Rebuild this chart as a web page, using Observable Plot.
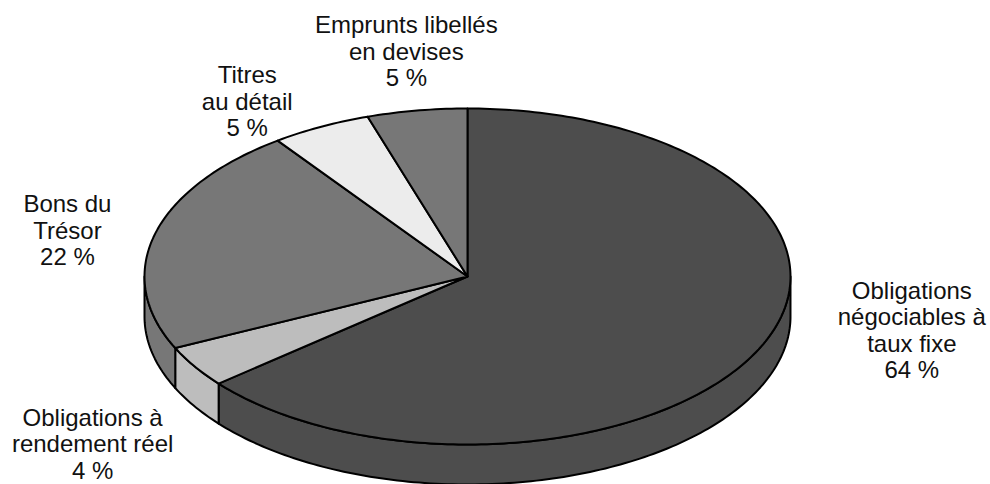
<!DOCTYPE html>
<html>
<head>
<meta charset="utf-8">
<script src="https://cdn.jsdelivr.net/npm/d3@7"></script>
<script src="https://cdn.jsdelivr.net/npm/@observablehq/plot@0.6"></script>
<style>
  html, body { margin: 0; padding: 0; background: #ffffff; }
  #chart svg { display: block; background: #ffffff; }
</style>
</head>
<body>
<div id="chart"></div>
<script>
// ---- Data ----
const categories = [
  "Obligations négociables à taux fixe",
  "Obligations à rendement réel",
  "Bons du Trésor",
  "Titres au détail",
  "Emprunts libellés en devises"
];
const values = [64, 4, 22, 5, 5];
const labelTexts = [
  "Obligations\nnégociables à\ntaux fixe",
  "Obligations à\nrendement réel",
  "Bons du\nTrésor",
  "Titres\nau détail",
  "Emprunts libellés\nen devises"
];
const percentLabels = ["64 %", "4 %", "22 %", "5 %", "5 %"];

// ---- Style / layout ----
const fills = ["#4d4d4d", "#bdbdbd", "#777777", "#ececec", "#777777"];
const W = 990, H = 484;
const cx = 467, cy = 276, rx = 323, ry = 168, depth = 40; // pie layout (pixels)
const labelRadius = 1.25;
const labelNudge = [[79, -36], [-34, 55], [-9, 6], [-37, 12], [2, -18]]; // pixel nudges
const d = depth / ry; // depth in y units

// ---- Geometry from values ----
const total = d3.sum(values);
const starts = d3.cumsum([0, ...values]).slice(0, values.length).map(v => v / total);
const ends = starts.map((s, i) => s + values[i] / total);

function arcPoints(f0, f1, yOff = 0) {
  const pts = [];
  const n = Math.max(2, Math.ceil((f1 - f0) * 360));
  for (let k = 0; k <= n; k++) {
    const f = f0 + (f1 - f0) * k / n;
    const t = 2 * Math.PI * f;
    pts.push({x: Math.sin(t), y: Math.cos(t) - yOff});
  }
  return pts;
}

const walls = [];
const tops = [];
values.forEach((v, i) => {
  const s = starts[i], e = ends[i];
  // visible front wall: lower half (f in [0.25, 0.75])
  const ws = Math.max(s, 0.25), we = Math.min(e, 0.75);
  if (we > ws) {
    const topArc = arcPoints(ws, we, 0);
    const botArc = arcPoints(ws, we, d).reverse();
    walls.push({i, pts: [...topArc, ...botArc]});
  }
  tops.push({i, pts: [{x: 0, y: 0}, ...arcPoints(s, e, 0)]});
});

const labels = values.map((v, i) => {
  const mid = (starts[i] + ends[i]) / 2;
  const t = 2 * Math.PI * mid;
  return {
    x: labelRadius * Math.sin(t) + labelNudge[i][0] / rx,
    y: labelRadius * Math.cos(t) - labelNudge[i][1] / ry,
    text: labelTexts[i] + "\n" + percentLabels[i]
  };
});

const polyMark = (poly) => Plot.line(poly.pts, {
  x: "x", y: "y",
  fill: fills[poly.i],
  stroke: "#000000",
  strokeWidth: 2,
  strokeLinejoin: "round",
  curve: "linear-closed"
});

const chart = Plot.plot({
  width: W,
  height: H,
  margin: 0,
  style: {background: "#ffffff", overflow: "visible"},
  x: {domain: [-cx / rx, (W - cx) / rx], range: [0, W], axis: null},
  y: {domain: [(cy - H) / ry, cy / ry], range: [H, 0], axis: null},
  marks: [
    ...walls.map(polyMark),
    ...tops.map(polyMark),
    Plot.text(labels, {
      x: "x", y: "y", text: "text",
      fontSize: 24,
      lineHeight: 1.1,
      fontFamily: "Liberation Sans, Arial, Helvetica, sans-serif",
      fill: "#111111",
      textAnchor: "middle",
      lineAnchor: "middle"
    })
  ]
});
document.getElementById("chart").appendChild(chart);
</script>
</body>
</html>
